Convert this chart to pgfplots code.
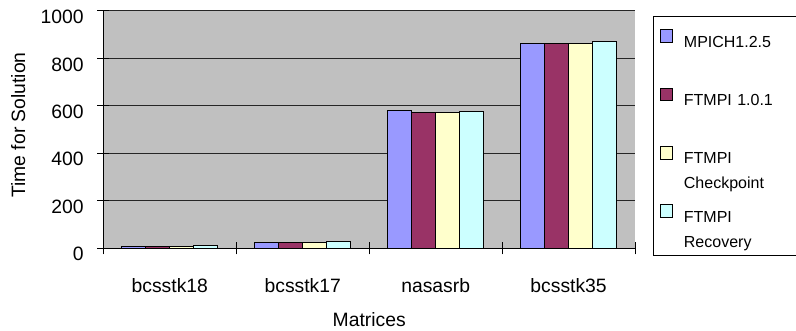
\documentclass[border=0pt]{standalone}
\usepackage{fontspec}
\setmainfont{Liberation Sans}
\usepackage{pgfplots}
\pgfplotsset{compat=1.18}
\definecolor{bg}{RGB}{192,192,192}
\definecolor{c1}{RGB}{153,153,255}
\definecolor{c2}{RGB}{153,51,102}
\definecolor{c3}{RGB}{255,255,204}
\definecolor{c4}{RGB}{204,255,255}
\begin{document}
\fontsize{14.5}{17.4}\selectfont
\begin{tikzpicture}
\useasboundingbox (-77.5pt,-61.3pt) rectangle (519.5pt,186.2pt);
\begin{axis}[
  scale only axis, width=398.8pt, height=178pt,
  xmin=-0.5, xmax=3.5, ymin=0, ymax=1000,
  axis lines=left, axis line style={-, line width=0.75pt, black},
  axis background/.style={fill=bg},
  ybar=0pt, bar width=18pt,
  ytick={0,200,...,1000},
  ymajorgrids, major grid style={black!85, line width=0.75pt},
  tick align=center, major tick length=9pt, tick style={black, line width=0.75pt},
  xtick={-0.5,0.5,1.5,2.5,3.5}, xticklabels={},
  extra x ticks={0,1,2,3},
  extra x tick labels={bcsstk18,bcsstk17,nasasrb,bcsstk35},
  extra x tick style={major tick length=0pt, grid=none, xticklabel style={anchor=base, yshift=-33.5pt}},
  yticklabel style={anchor=east, inner sep=0pt, xshift=-10pt, yshift=-4.5pt},
  /pgf/number format/assume math mode=true, /pgf/number format/1000 sep={},
  xlabel={Matrices}, ylabel={Time for Solution},
  every axis x label/.style={at={(axis description cs:0.5,0)}, anchor=base, yshift=-58.8pt},
  every axis y label/.style={at={(axis description cs:0,0.5)}, xshift=-58.7pt, yshift=3.5pt, rotate=90, anchor=base},
  every axis plot post/.append style={draw=black, line width=0.75pt,
    legend image code/.code={\draw[#1] (0pt,3.5pt) rectangle (9.5pt,13pt);}},
  legend style={at={(axis description cs:1.0339,0.9787)}, anchor=north west,
    draw=black, line width=0.75pt, fill=white,
    inner xsep=4.5pt, inner ysep=5pt, row sep=5.75pt, column sep=8pt,
    font=\fontsize{12}{14.4}\selectfont,
    nodes={inner sep=0pt, text height=18pt, text depth=20pt, text width=80pt, align=left, anchor=base west},
    cells={anchor=base west}},
]
\addplot[fill=c1] coordinates {(0,7) (1,26) (2,579) (3,862)};
\addplot[fill=c2] coordinates {(0,7) (1,26) (2,570) (3,862)};
\addplot[fill=c3] coordinates {(0,7) (1,26) (2,574) (3,861)};
\addplot[fill=c4] coordinates {(0,12) (1,27) (2,578) (3,873)};
\addlegendentry{MPICH1.2.5}
\addlegendentry{FTMPI 1.0.1}
\addlegendentry{FTMPI\\[4.35pt]Checkpoint}
\addlegendentry{FTMPI\\[4.35pt]Recovery}
\end{axis}
\end{tikzpicture}
\end{document}
